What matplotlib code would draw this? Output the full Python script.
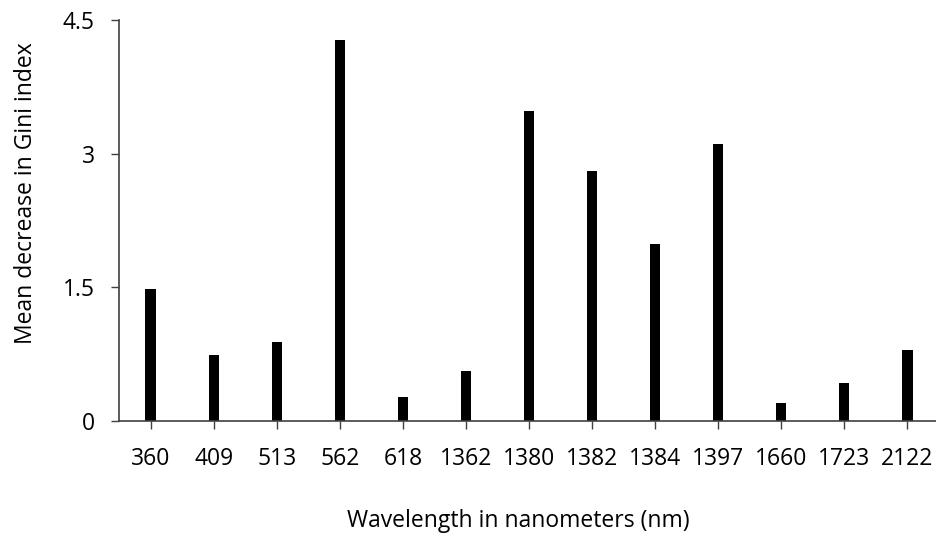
import matplotlib
matplotlib.use("Agg")
import matplotlib.pyplot as plt
import numpy as np

wavelengths = ["360", "409", "513", "562", "618", "1362", "1380", "1382",
               "1384", "1397", "1660", "1723", "2122"]
gini = [1.48, 0.74, 0.89, 4.28, 0.27, 0.56, 3.48, 2.81, 1.99, 3.11, 0.20, 0.43, 0.80]
y_ticks = [0, 1.5, 3, 4.5]
y_tick_labels = ["0", "1.5", "3", "4.5"]

plt.rcParams['font.family'] = ['Open Sans', 'DejaVu Sans']

W, H = 936, 534
fig = plt.figure(figsize=(W / 100, H / 100), dpi=100)
left, right, top, bottom = 119, 939, 20, 421
ax = fig.add_axes([left / W, 1 - bottom / H, (right - left) / W, (bottom - top) / H])

x = np.arange(len(wavelengths))
ax.bar(x, gini, width=0.16, color="black", zorder=2)

ax.set_xlim(-0.5, len(wavelengths) - 0.5)
ax.set_ylim(0, 4.5)
ax.set_yticks(y_ticks)
ax.set_yticklabels(y_tick_labels)
ax.set_xticks(x)
ax.set_xticklabels(wavelengths)

for s in ["top", "right"]:
    ax.spines[s].set_visible(False)
for s in ["left", "bottom"]:
    ax.spines[s].set_color("#404040")
    ax.spines[s].set_linewidth(1.2)

fs = 16.5
ax.tick_params(axis="y", direction="out", length=5.5, width=1, color="#404040",
               labelsize=fs, pad=12)
ax.tick_params(axis="x", direction="out", length=5.5, width=1, color="#404040",
               labelsize=fs, pad=13)

fig.text(32 / W, 1 - 193 / H, "Mean decrease in Gini index", rotation=90,
         rotation_mode="anchor", ha="center", va="baseline", fontsize=fs)
fig.text(518 / W, 1 - 527 / H, "Wavelength in nanometers (nm)",
         ha="center", va="baseline", fontsize=fs)

fig.savefig("out.png", dpi=100)
